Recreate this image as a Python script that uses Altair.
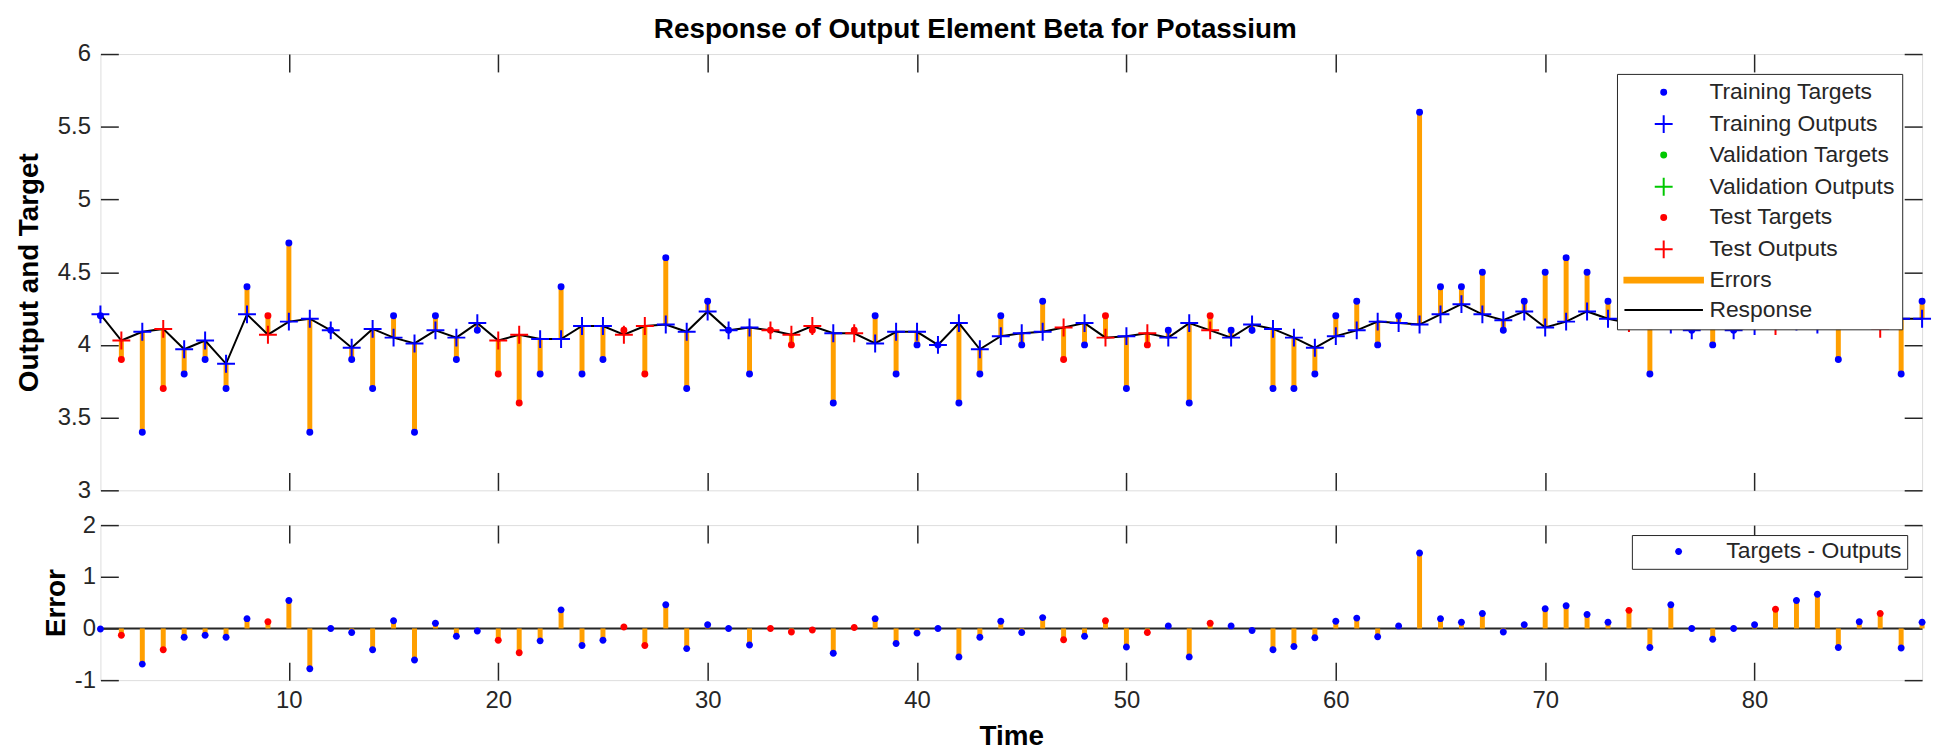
import altair as alt
import pandas as pd

# ---------------- data ----------------
time = list(range(1, 89))

outputs = [4.21, 4.03, 4.09, 4.11, 3.97, 4.03, 3.87, 4.21, 4.07, 4.16,
           4.18, 4.10, 3.98, 4.11, 4.05, 4.01, 4.10, 4.05, 4.15, 4.03,
           4.07, 4.04, 4.04, 4.13, 4.13, 4.07, 4.13, 4.14, 4.09, 4.23,
           4.10, 4.12, 4.10, 4.07, 4.13, 4.08, 4.08, 4.01, 4.09, 4.09,
           4.00, 4.15, 3.97, 4.06, 4.08, 4.09, 4.12, 4.15, 4.05, 4.06,
           4.08, 4.05, 4.15, 4.10, 4.05, 4.14, 4.11, 4.05, 3.98, 4.06,
           4.10, 4.16, 4.15, 4.14, 4.21, 4.28, 4.21, 4.17, 4.23, 4.12,
           4.16, 4.23, 4.18, 4.15, 4.17, 4.14, 4.10, 4.21, 4.10, 4.13,
           4.13, 4.16, 4.14, 4.27, 4.17, 4.11, 4.18, 4.18]

targets = [4.2, 3.9, 3.4, 3.7, 3.8, 3.9, 3.7, 4.4, 4.2, 4.7,
           3.4, 4.1, 3.9, 3.7, 4.2, 3.4, 4.2, 3.9, 4.1, 3.8,
           3.6, 3.8, 4.4, 3.8, 3.9, 4.1, 3.8, 4.6, 3.7, 4.3,
           4.1, 3.8, 4.1, 4.0, 4.1, 3.6, 4.1, 4.2, 3.8, 4.0,
           4.0, 3.6, 3.8, 4.2, 4.0, 4.3, 3.9, 4.0, 4.2, 3.7,
           4.0, 4.1, 3.6, 4.2, 4.1, 4.1, 3.7, 3.7, 3.8, 4.2,
           4.3, 4.0, 4.2, 5.6, 4.4, 4.4, 4.5, 4.1, 4.3, 4.5,
           4.6, 4.5, 4.3, 4.5, 3.8, 4.6, 4.1, 4.0, 4.1, 4.2,
           4.5, 4.7, 4.8, 3.9, 4.3, 4.4, 3.8, 4.3]

test_steps = [2, 4, 9, 20, 21, 26, 27, 33, 34, 35, 37, 47, 49, 51, 54, 74, 81, 86]

x_ticks = [10, 20, 30, 40, 50, 60, 70, 80]
y_ticks_top = [3, 3.5, 4, 4.5, 5, 5.5, 6]
y_ticks_err = [-1, 0, 1, 2]

legend_labels = ["Training Targets", "Training Outputs", "Validation Targets",
                 "Validation Outputs", "Test Targets", "Test Outputs", "Errors", "Response"]
legend_colors = ["#0000FF", "#0000FF", "#00C800", "#00C800",
                 "#FF0000", "#FF0000", "#FF9F00", "#000000"]

# ---------------- styling ----------------
FONT = "Liberation Sans"
AX = "#262626"
ORANGE = "#FF9F00"
DOT = "M0.25,0A0.25,0.25,0,1,1,-0.25,0A0.25,0.25,0,1,1,0.25,0Z"
DOT_B = "M0.35,0A0.35,0.35,0,1,1,-0.35,0A0.35,0.35,0,1,1,0.35,0Z"
CROSS = "M-0.9,0H0.9M0,-0.9V0.9"
BAR = "M-3.95,-0.25H3.95V0.25H-3.95Z"
LINE = "M-3.95,0H3.95"
legend_shapes = [DOT, CROSS, DOT, CROSS, DOT, CROSS, BAR, LINE]

W, H1, H2 = 1833, 439, 156
TICK = 18
LABEL_FS = 24
TITLE_FS = 28
LEG_FS = 23

split = ["Test" if t in test_steps else "Training" for t in time]
errors = [round(tg - o, 4) for tg, o in zip(targets, outputs)]

top_df = pd.DataFrame({"time": time, "target": targets, "output": outputs, "split": split})
pts_df = pd.DataFrame({
    "time": time + time,
    "value": targets + outputs,
    "series": [s + " Targets" for s in split] + [s + " Outputs" for s in split],
})
err_df = pd.DataFrame({"time": time, "error": errors, "split": split,
                       "zero": [0] * len(time), "lbl": ["Targets - Outputs"] * len(time)})

xs = alt.Scale(domain=[1, 88], nice=False, zero=False)
ys_top = alt.Scale(domain=[3, 6], nice=False, zero=False)
ys_err = alt.Scale(domain=[-1, 2], nice=False, zero=False)


def label_axis(orient, values, title, show_labels=True, label_pad=8, title_pad=10):
    kw = dict(orient=orient, values=values, ticks=False, tickSize=0, domain=False, grid=False,
              labels=show_labels, labelFont=FONT, labelFontSize=LABEL_FS, labelColor=AX,
              labelPadding=label_pad, labelExpr="'' + datum.value", labelFlush=False,
              labelOverlap=False)
    if title:
        kw.update(title=title, titleFont=FONT, titleFontSize=TITLE_FS, titleFontWeight="bold",
                  titleColor="#000000", titlePadding=title_pad)
    else:
        kw.update(title=None)
    return alt.Axis(**kw)


def tick_axis(orient, values, offset):
    return alt.Axis(orient=orient, values=values, offset=offset, ticks=True, tickSize=TICK,
                    tickWidth=1.5, tickColor=AX, domain=False, labels=False, grid=False, title=None)


def legend_top():
    return alt.Legend(orient="none", legendX=1526, legendY=20, title=None,
                      labelFont=FONT, labelFontSize=LEG_FS, labelColor=AX, labelLimit=400,
                      symbolSize=400, symbolStrokeWidth=2, symbolOffset=28.5, labelOffset=34.5,
                      rowPadding=6, padding=7, strokeColor=AX, fillColor="#FFFFFF",
                      cornerRadius=0)


# ---------------- top panel ----------------
err_bars = alt.Chart(top_df).mark_rule(color=ORANGE, strokeWidth=5).encode(
    x=alt.X("time:Q", scale=xs, axis=label_axis("bottom", x_ticks, None, show_labels=False)),
    y=alt.Y("target:Q", scale=ys_top,
            axis=label_axis("left", y_ticks_top, "Output and Target", label_pad=10, title_pad=14)),
    y2="output:Q",
)
resp = alt.Chart(top_df).mark_line(color="#000000", strokeWidth=2).encode(
    x=alt.X("time:Q", scale=xs, axis=tick_axis("top", x_ticks, -H1)),
    y=alt.Y("output:Q", scale=ys_top, axis=tick_axis("right", y_ticks_top, -W)),
)
pts = alt.Chart(pts_df).mark_point(filled=True, size=400, opacity=1, strokeWidth=2).encode(
    x=alt.X("time:Q", scale=xs, axis=tick_axis("bottom", x_ticks, -H1)),
    y=alt.Y("value:Q", scale=ys_top, axis=tick_axis("left", y_ticks_top, -W)),
    color=alt.Color("series:N", scale=alt.Scale(domain=legend_labels, range=legend_colors),
                    legend=legend_top()),
    stroke=alt.Stroke("series:N", scale=alt.Scale(domain=legend_labels, range=legend_colors),
                      legend=legend_top()),
    shape=alt.Shape("series:N", scale=alt.Scale(domain=legend_labels, range=legend_shapes),
                    legend=legend_top()),
)
top = alt.layer(err_bars, resp, pts).resolve_axis(x="independent", y="independent").properties(
    width=W, height=H1)

# ---------------- error panel ----------------
zero_line = alt.Chart(err_df).mark_line(color=AX, strokeWidth=2).encode(
    x=alt.X("time:Q", scale=xs, axis=label_axis("bottom", x_ticks, "Time", label_pad=9, title_pad=10)),
    y=alt.Y("zero:Q", scale=ys_err, axis=label_axis("left", y_ticks_err, "Error", label_pad=5, title_pad=4)),
)
e_rules = alt.Chart(err_df).mark_rule(color=ORANGE, strokeWidth=5).encode(
    x=alt.X("time:Q", scale=xs, axis=tick_axis("top", x_ticks, -H2)),
    y=alt.Y("error:Q", scale=ys_err, axis=tick_axis("right", y_ticks_err, -W)),
    y2="zero:Q",
)
e_pts = alt.Chart(err_df).mark_point(filled=True, size=400, opacity=1).encode(
    x=alt.X("time:Q", scale=xs, axis=tick_axis("bottom", x_ticks, -H2)),
    y=alt.Y("error:Q", scale=ys_err, axis=tick_axis("left", y_ticks_err, -W)),
    color=alt.Color("split:N", scale=alt.Scale(domain=["Training", "Test"],
                                               range=["#0000FF", "#FF0000"]), legend=None),
    shape=alt.Shape("lbl:N", scale=alt.Scale(domain=["Targets - Outputs"], range=[DOT_B]),
                    legend=alt.Legend(orient="none", legendX=1541, legendY=10, title=None,
                                      labelFont=FONT, labelFontSize=LEG_FS, labelColor=AX,
                                      labelLimit=400, symbolSize=400, symbolStrokeWidth=0,
                                      symbolFillColor="#0000FF", symbolStrokeColor="#0000FF",
                                      symbolOffset=30.5, labelOffset=36.5, padding=5,
                                      strokeColor=AX, fillColor="#FFFFFF", cornerRadius=0)),
)
bottom = alt.layer(zero_line, e_rules, e_pts).resolve_axis(x="independent", y="independent").properties(
    width=W, height=H2)

chart = alt.vconcat(top, bottom, spacing=9).resolve_scale(
    color="independent", shape="independent", stroke="independent", x="independent", y="independent"
).resolve_legend(color="independent", shape="independent", stroke="independent").properties(
    title=alt.TitleParams("Response of Output Element Beta for Potassium", font=FONT, fontSize=TITLE_FS,
                          fontWeight="bold", color="#000000", anchor="middle", offset=-2),
    padding={"left": 7, "top": 5, "right": 0, "bottom": 0},
).configure_view(stroke=AX, strokeWidth=1.5).configure(background="#FFFFFF")

chart.save("out.html", embed_options={"renderer": "svg", "actions": False})
